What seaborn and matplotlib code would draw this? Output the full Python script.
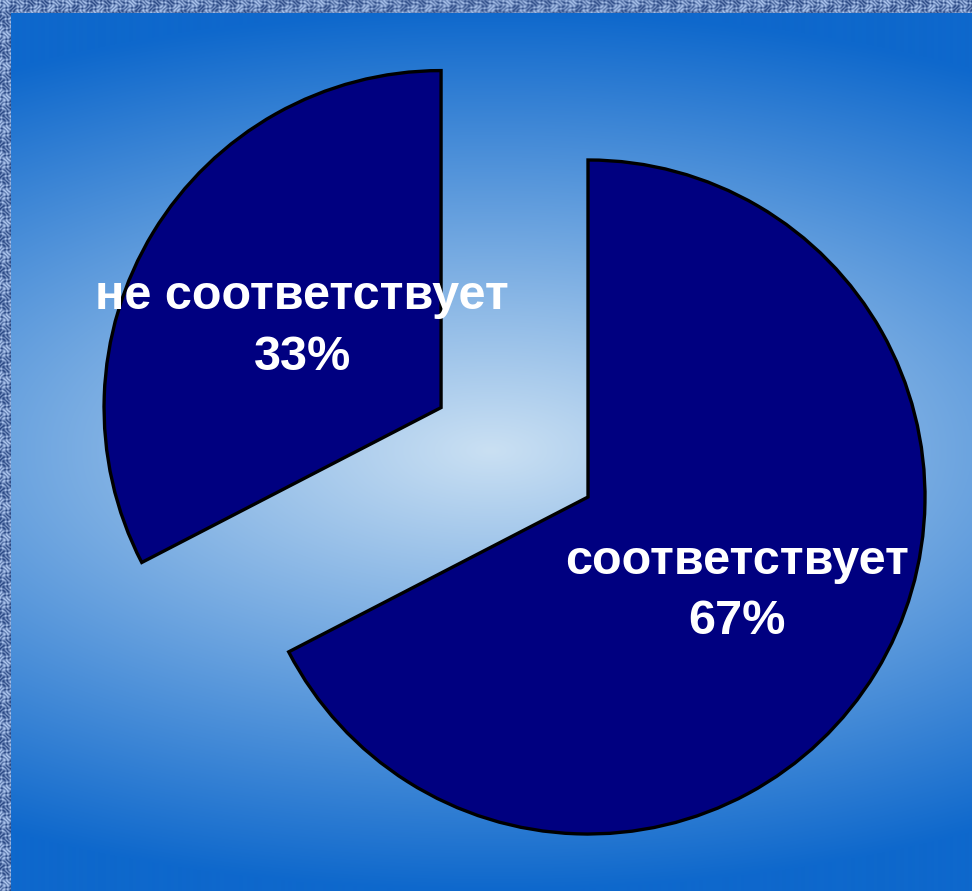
import numpy as np
import matplotlib
matplotlib.use("Agg")
import matplotlib.pyplot as plt
import seaborn as sns

sns.set_theme(style="white")
plt.rcParams['font.family'] = ['Liberation Sans', 'DejaVu Sans']

# ---- data ----
categories = ["соответствует", "не соответствует"]
values = [67.4, 32.6]
slice_colors = ["#000080", "#000080"]

W, H = 972, 891
fig = plt.figure(figsize=(W / 100, H / 100), dpi=100)
ax = fig.add_axes([0, 0, 1, 1])

# ---- background gradient (rectangular path gradient) ----
yy, xx = np.mgrid[0:H, 0:W].astype(float)
ty = np.abs(yy - 450) / 440.0
tx = np.abs(xx - 490) / 480.0
t = np.clip(np.sqrt(ty ** 2 + (0.5 * tx) ** 2), 0, 1)
t = np.clip(np.maximum(t, ty), 0, 1)
dark = np.array([14, 104, 204]) / 255.0
light = np.array([202, 224, 243]) / 255.0
img = light[None, None, :] * (1 - t[..., None]) + dark[None, None, :] * t[..., None]

# textured border (top and left), deterministic weave pattern
border = np.zeros((H, W), bool)
border[:13, :] = True
border[:, :11] = True
pat = np.sin(xx * 0.9 + np.cos(yy * 0.6) * 2.0) * np.cos(yy * 0.8 + np.sin(xx * 0.5) * 2.0)
pat = (pat + 1) / 2
tex_dark = np.array([40, 70, 130]) / 255.0
tex_light = np.array([175, 200, 240]) / 255.0
tex = tex_dark[None, None, :] * (1 - pat[..., None]) + tex_light[None, None, :] * pat[..., None]
img[border] = tex[border]

ax.imshow(img, extent=[0, W, 0, H], origin="upper", zorder=0, aspect="auto")

# ---- pie ----
labels_iter = iter(categories)

def fmt(p):
    return f"{next(labels_iter)}\n{p:.0f}%"

wedges, _, autotexts = ax.pie(
    values,
    colors=slice_colors,
    startangle=90,
    counterclock=False,
    radius=337,
    center=(588, H - 497),
    explode=[0, 172],
    autopct=fmt,
    pctdistance=0.5,
    wedgeprops=dict(edgecolor="black", linewidth=2.4),
    textprops=dict(color="white", fontsize=35, fontweight="bold", linespacing=1.45),
    frame=True,
)
ax.set_xlim(0, W)
ax.set_ylim(0, H)
ax.set_aspect("auto")
ax.axis("off")
for w in wedges:
    w.set_zorder(2)
for t_ in autotexts:
    t_.set_zorder(3)
    x0, y0 = t_.get_position()
    t_.set_position((x0 + 5, y0 - 7))

fig.savefig("out.png", dpi=100)
